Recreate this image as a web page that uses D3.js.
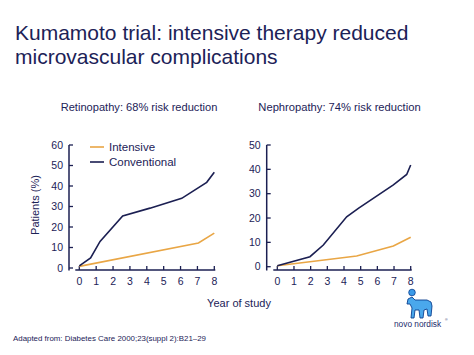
<!DOCTYPE html>
<html><head><meta charset="utf-8">
<script src="https://cdn.jsdelivr.net/npm/d3@7"></script>
<style>body{margin:0;background:#fff}svg{display:block}text{font-family:"Liberation Sans",Arial,sans-serif}</style>
</head><body><svg id="c" width="474" height="355"></svg>
<script>
const retinoConventional = [[0,1],[0.67,4.9],[1.23,13],[2.57,25.4],[4.19,29.2],[6.07,34],[7.55,41.8],[8,46.7]];
const retinoIntensive = [[0,0.8],[7.06,12.2],[8,17]];
const nephroConventional = [[0,0.4],[1.96,4.1],[2.76,8.9],[4.16,20.5],[4.86,24],[6.96,33.6],[7.76,37.9],[8,41.8]];
const nephroIntensive = [[0,0.4],[4.76,4.4],[6.96,8.5],[8,12.1]];
const xTicks = [0,1,2,3,4,5,6,7,8];
const retinoYTicks = [0,10,20,30,40,50,60];
const nephroYTicks = [0,10,20,30,40,50];

const navy = "#1b1f52", orange = "#e9a645", text = "#1c2257";
const svg = d3.select("#c");

svg.append("text").attr("x",15).attr("y",40).attr("font-size",21).attr("fill",text).text("Kumamoto trial: intensive therapy reduced");
svg.append("text").attr("x",15).attr("y",63.5).attr("font-size",21).attr("fill",text).text("microvascular complications");
svg.append("text").attr("x",139).attr("y",111).attr("text-anchor","middle").attr("font-size",11.1).attr("fill",text).text("Retinopathy: 68% risk reduction");
svg.append("text").attr("x",339.5).attr("y",111).attr("text-anchor","middle").attr("font-size",11.2).attr("fill",text).text("Nephropathy: 74% risk reduction");

function panel(o){
  const x = d3.scaleLinear().domain([0,8]).range([o.x0,o.x1]);
  const y = d3.scaleLinear().domain([0,o.ymax]).range([o.y0,o.y1]);
  const g = svg.append("g");
  g.append("line").attr("x1",o.ax).attr("x2",o.ax).attr("y1",y(o.ymax)).attr("y2",o.axY+0.5).attr("stroke",navy).attr("stroke-width",1.5);
  o.yTicks.forEach(t=>{
    g.append("line").attr("x1",o.ax).attr("x2",o.ax+4).attr("y1",y(t)).attr("y2",y(t)).attr("stroke",navy).attr("stroke-width",1.3);
    g.append("text").attr("x",o.ax-6).attr("y",y(t)+3.5).attr("text-anchor","end").attr("font-size",10.5).attr("fill",text).text(t);
  });
  g.append("line").attr("x1",x(0)-4).attr("x2",x(8)+1).attr("y1",o.axY).attr("y2",o.axY).attr("stroke",navy).attr("stroke-width",1.5);
  xTicks.forEach(t=>{
    g.append("line").attr("x1",x(t)).attr("x2",x(t)).attr("y1",o.axY).attr("y2",o.axY-4).attr("stroke",navy).attr("stroke-width",1.3);
    g.append("text").attr("x",x(t)).attr("y",o.axY+15).attr("text-anchor","middle").attr("font-size",10.5).attr("fill",text).text(t);
  });
  const line = d3.line().x(d=>x(d[0])).y(d=>y(d[1]));
  g.append("path").datum(o.intensive).attr("d",line).attr("fill","none").attr("stroke",orange).attr("stroke-width",1.6);
  g.append("path").datum(o.conventional).attr("d",line).attr("fill","none").attr("stroke",navy).attr("stroke-width",1.6);
}
panel({x0:79.3,x1:214.3,y0:268,y1:145,ymax:60,ax:69,axY:270,yTicks:retinoYTicks,conventional:retinoConventional,intensive:retinoIntensive});
panel({x0:277.3,x1:410.7,y0:266.7,y1:145,ymax:50,ax:266.7,axY:270,yTicks:nephroYTicks,conventional:nephroConventional,intensive:nephroIntensive});

svg.append("line").attr("x1",90).attr("x2",104).attr("y1",147).attr("y2",147).attr("stroke",orange).attr("stroke-width",1.6);
svg.append("text").attr("x",109).attr("y",151).attr("font-size",11.5).attr("fill",text).text("Intensive");
svg.append("line").attr("x1",90).attr("x2",104).attr("y1",162).attr("y2",162).attr("stroke",navy).attr("stroke-width",1.6);
svg.append("text").attr("x",109).attr("y",166).attr("font-size",11.5).attr("fill",text).text("Conventional");

svg.append("text").attr("transform","translate(39,205) rotate(-90)").attr("text-anchor","middle").attr("font-size",11).attr("fill",text).text("Patients (%)");
svg.append("text").attr("x",239).attr("y",307).attr("text-anchor","middle").attr("font-size",11).attr("fill",text).text("Year of study");
svg.append("text").attr("x",13).attr("y",341).attr("font-size",7.9).attr("fill",text).text("Adapted from: Diabetes Care 2000;23(suppl 2):B21\u201329");

// logo
const lg = svg.append("g");
lg.append("circle").attr("cx",412).attr("cy",292.5).attr("r",3.3).attr("fill","#3a9ae8").attr("stroke","#0b3f90").attr("stroke-width",0.8);
lg.append("path").attr("d","M408,299 L412,297 L415,300 L427,300 L431,302 L432,306 L431,316 L428,316 L427,309 L424,310 L423,318 L420,318 L419,310 L415,310 L414,318 L411,318 L412,308 L410,304 L407,304 Z").attr("fill","#4aa8ec").attr("stroke","#0b3f90").attr("stroke-width",0.9);
lg.append("text").attr("x",394).attr("y",327).attr("font-size",8.3).attr("fill","#1b2a6b").text("novo nordisk");
lg.append("text").attr("x",445).attr("y",321).attr("font-size",3.5).attr("fill","#1b2a6b").text("®");
</script></body></html>
